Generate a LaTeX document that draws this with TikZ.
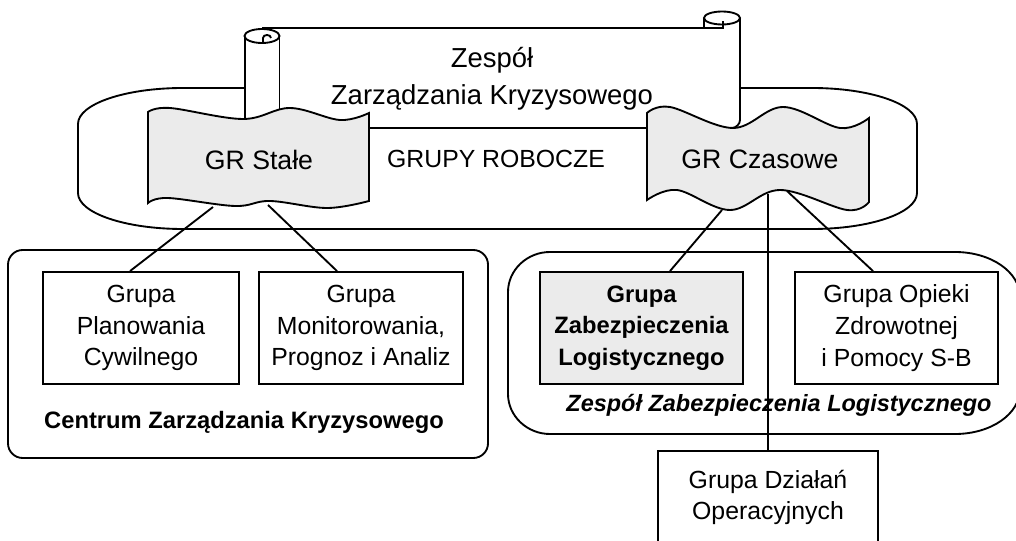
\documentclass[tikz,border=0pt]{standalone}
\usepackage{fontspec}
\setmainfont{Liberation Sans}
\usepackage{tikz}
\usetikzlibrary{calc}

\definecolor{grfill}{gray}{0.92}

\tikzset{
  frame/.style={line width=1.4pt},
  group/.style={draw, line width=1.4pt, fill=white, minimum height=84pt, inner sep=2pt,
    align=center, font=\fontsize{18.6}{23.8}\selectfont},
  tape/.style={draw, line width=1.4pt, fill=grfill},
  txt/.style={align=center, font=\fontsize{18.6}{23.8}\selectfont},
  bigtxt/.style={align=center, font=\fontsize{20}{27.75}\selectfont},
  boldtxt/.style={align=center, font=\fontsize{17.8}{23.8}\selectfont\bfseries},
  link/.style={line width=1.4pt}
}

\begin{document}
\begin{tikzpicture}[x=0.75pt, y=-0.75pt]
\useasboundingbox (0,0) rectangle (1016,541);
\clip (0,0) rectangle (1016,541);

%grupy robocze
\draw[frame, fill=white] (183,88) -- (812,88) .. controls (870,88) and (917,104) .. (917,124) -- (917,193)
  .. controls (917,213) and (870,229) .. (812,229) -- (183,229) .. controls (125,229) and (78,213) .. (78,193)
  -- (78,124) .. controls (78,104) and (125,88) .. (183,88) -- cycle;

%banner
\fill[white] (245,28) rectangle (740,128);
\draw[frame] (245,36) -- (245,128) -- (732,128) .. controls (736,128) and (740,124) .. (740,120) -- (740,18);
\draw[frame] (279.5,36) -- (279.5,128);
\draw[frame] (262,28) -- (723,28) -- (723,21);
\draw[frame] (704,18) -- (704,28);
\draw[frame, fill=white] (722,18) ellipse [x radius=18, y radius=6.5];
\draw[frame] (723,28) -- (723,21);
\draw[frame, fill=white] (262,36) ellipse [x radius=17.5, y radius=7];
\draw[frame] (263,43) -- (263,38) .. controls (263,34) and (271,34) .. (271,38);

\node[bigtxt, font=\fontsize{20.6}{27.75}\selectfont] (zespol) at (492,78.5) {Zespół\\Zarządzania Kryzysowego};

%GR shapes
\draw[tape] plot[smooth, tension=0.6] coordinates {(148,112) (170,108) (243,119) (290,108) (340,120) (369,113)}
  -- plot[smooth, tension=0.6] coordinates {(369,201) (327,208) (270,201) (235,206) (168,198) (148,203)} -- cycle;
\draw[tape] plot[smooth, tension=0.6] coordinates {(647,113) (670,107) (733,128) (783,107) (840,128) (869,118)}
  -- plot[smooth, tension=0.6] coordinates {(869,202) (847,210) (780,190) (730,210) (677,190) (647,200)} -- cycle;

\node[bigtxt] (stale) at (259,160) {GR Stałe};
\node[txt] (roboczy) at (496,159) {GRUPY ROBOCZE};
\node[bigtxt] (czasowe) at (760,159) {GR Czasowe};

\coordinate (stale-l) at (213,207);
\coordinate (stale-r) at (268,205);
\coordinate (czas-l) at (722,210);
\coordinate (czas-m) at (768,194);
\coordinate (czas-r) at (787,191);

%containers
\draw[frame, rounded corners=11pt] (8,250) rectangle (488,458);
\draw[frame] (550,252) -- (955,252) .. controls (991,252) and (1020,272) .. (1020,297) -- (1020,389)
  .. controls (1020,414) and (991,434) .. (955,434) -- (550,434) .. controls (527,434) and (508,416) .. (508,394)
  -- (508,292) .. controls (508,270) and (527,252) .. (550,252) -- cycle;

\node[boldtxt] (czk) at (244,422) {Centrum Zarządzania Kryzysowego};
\node[boldtxt, font=\fontsize{17.6}{23.8}\selectfont\bfseries\itshape] (zzl) at (779,405) {Zespół Zabezpieczenia Logistycznego};

%groups
\node[group, minimum width=147pt] (plan) at (141,328) {Grupa\\Planowania\\Cywilnego};
\node[group, minimum width=153pt] (monit) at (361,328) {Grupa\\Monitorowania,\\Prognoz i Analiz};
\node[group, minimum width=152.25pt, fill=grfill, font=\fontsize{17.8}{23.8}\selectfont\bfseries] (logist) at (641.5,328) {Grupa\\Zabezpieczenia\\Logistycznego};
\node[group, minimum width=152.25pt] (opieka) at (896.5,328) {Grupa Opieki\\Zdrowotnej\\i Pomocy S-B};
\node[group, minimum width=165pt, minimum height=69.75pt] (operac) at (768,497.5) {Grupa Działań\\Operacyjnych};

%links
\draw[link] (stale-l) -- ($(plan.north)+(-11,0)$);
\draw[link] (stale-r) -- ($(monit.north)+(-24,0)$);
\draw[link] (czas-l) -- ($(logist.north)+(28.5,0)$);
\draw[link] (czas-r) -- ($(opieka.north)+(-23.5,0)$);
\draw[link] (czas-m) -- (operac.north);

\end{tikzpicture}
\end{document}
